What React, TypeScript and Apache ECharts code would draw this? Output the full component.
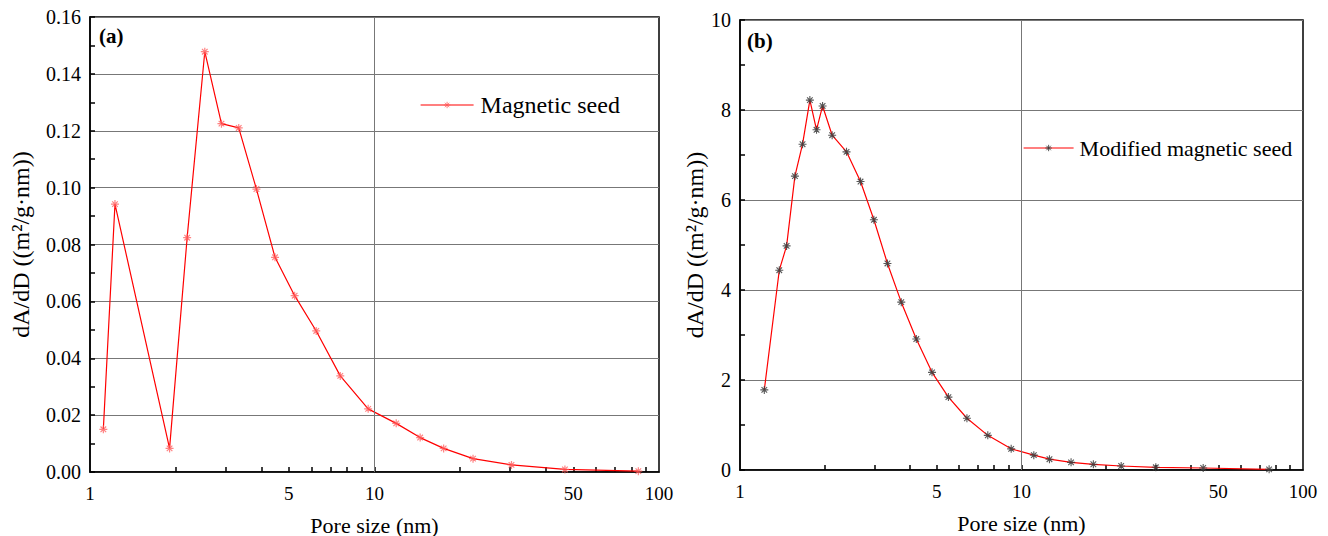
import React, { useEffect, useRef } from 'react';
import * as echarts from 'echarts';

// Panel (a): Magnetic seed
const poreA = [1.114, 1.224, 1.904, 2.195, 2.532, 2.898, 3.333, 3.846, 4.47, 5.24, 6.24, 7.58, 9.5, 11.92, 14.47, 17.5, 22.2, 30.3, 46.7, 84.6];
const dAdDA = [0.015, 0.0942, 0.0083, 0.0824, 0.1478, 0.1225, 0.121, 0.0995, 0.0755, 0.062, 0.0496, 0.0338, 0.0222, 0.0171, 0.0121, 0.0083, 0.0047, 0.0025, 0.0009, 0.0003];

// Panel (b): Modified magnetic seed
const poreB = [1.22, 1.379, 1.464, 1.567, 1.668, 1.771, 1.87, 1.965, 2.125, 2.39, 2.68, 2.99, 3.34, 3.74, 4.23, 4.81, 5.5, 6.4, 7.59, 9.19, 11.06, 12.57, 15.0, 18.0, 22.6, 30.0, 44.2, 75.8];
const dAdDB = [1.78, 4.44, 4.98, 6.53, 7.24, 8.22, 7.56, 8.09, 7.44, 7.07, 6.41, 5.56, 4.59, 3.73, 2.91, 2.17, 1.62, 1.15, 0.77, 0.47, 0.33, 0.24, 0.17, 0.127, 0.089, 0.06, 0.044, 0.015];

const xLabelValues = [1, 5, 10, 50, 100];
const xTickValues = [2, 3, 4, 5, 6, 7, 8, 9, 10, 20, 30, 40, 50, 60, 70, 80, 90];
const xGridValues = [10];

const seriesNames = ['Magnetic seed', 'Modified magnetic seed'];
const xName = 'Pore size (nm)';
const yName = 'dA/dD ((m²/g·nm))';
const panelLabels = ['(a)', '(b)'];

const FONT = '"Liberation Serif", "Times New Roman", serif';
const ASTERISK = 'path://M0,-5L0,5M-5,0L5,0M-3.5,-3.5L3.5,3.5M-3.5,3.5L3.5,-3.5';
const MARK_A = 'rgba(255,90,90,0.75)';
const MARK_B = 'rgba(60,60,60,0.85)';

const lg = (v: number) => Math.log10(v);

function xAxisCfg(gridIndex: number) {
  return {
    type: 'value',
    gridIndex,
    min: 0,
    max: 2,
    name: xName,
    nameLocation: 'middle',
    nameGap: 42,
    nameTextStyle: { fontFamily: FONT, fontSize: 22, color: '#000' },
    axisLine: { show: true, onZero: false, lineStyle: { color: '#000', width: 1.5 } },
    axisTick: {
      show: true,
      inside: true,
      length: 5,
      customValues: xTickValues.map(lg),
      lineStyle: { color: '#000', width: 1.5 },
    },
    axisLabel: {
      customValues: xLabelValues.map(lg),
      formatter: (v: number) => String(Math.round(Math.pow(10, v))),
      fontFamily: FONT,
      fontSize: 19,
      color: '#000',
      margin: 12,
    },
    splitLine: { show: false },
  };
}

function yAxisCfg(gridIndex: number, max: number, interval: number, decimals: number, nameGap: number) {
  return {
    type: 'value',
    gridIndex,
    min: 0,
    max,
    interval,
    name: yName,
    nameLocation: 'middle',
    nameGap,
    nameTextStyle: { fontFamily: FONT, fontSize: 24, color: '#000' },
    axisLine: { show: true, lineStyle: { color: '#000', width: 1.5 } },
    axisTick: { show: true, inside: true, length: 5, lineStyle: { color: '#000', width: 1.5 } },
    minorTick: { show: true, splitNumber: 2, length: 5, lineStyle: { color: '#000', width: 1.5 } },
    axisLabel: {
      formatter: (v: number) => v.toFixed(decimals),
      fontFamily: FONT,
      fontSize: 20,
      color: '#000',
      margin: 9,
    },
    splitLine: { show: true, lineStyle: { color: '#777', width: 1 } },
  };
}

export default function App() {
  const ref = useRef<HTMLDivElement>(null);

  useEffect(() => {
    if (!ref.current) return;
    const chart = echarts.init(ref.current, undefined, { renderer: 'svg' });

    const markLine = {
      silent: true,
      symbol: ['none', 'none'],
      label: { show: false },
      lineStyle: { color: '#777', width: 1, type: 'solid' },
      data: xGridValues.map((v) => ({ xAxis: lg(v) })),
    };

    chart.setOption({
      animation: false,
      backgroundColor: '#fff',
      textStyle: { fontFamily: FONT },
      grid: [
        { left: 90, top: 17, width: 569, height: 455, outerBoundsMode: 'none', containLabel: false, show: true, borderColor: '#000', borderWidth: 1.5, backgroundColor: 'transparent' },
        { left: 740, top: 20, width: 563, height: 450, outerBoundsMode: 'none', containLabel: false, show: true, borderColor: '#000', borderWidth: 1.5, backgroundColor: 'transparent' },
      ],
      xAxis: [xAxisCfg(0), xAxisCfg(1)],
      yAxis: [yAxisCfg(0, 0.16, 0.02, 2, 57), yAxisCfg(1, 10, 2, 0, 32)],
      legend: [
        {
          data: [seriesNames[0]],
          left: 420,
          top: 93,
          padding: 0,
          itemWidth: 53,
          itemHeight: 8,
          itemGap: 0,
          itemStyle: { color: 'transparent', borderColor: MARK_A, borderWidth: 1 },
          lineStyle: { color: '#ff0000', width: 1.2 },
          textStyle: { fontFamily: FONT, fontSize: 24, color: '#000', padding: [0, 0, 0, 2] },
        },
        {
          data: [seriesNames[1]],
          left: 1023,
          top: 137,
          padding: 0,
          itemWidth: 50,
          itemHeight: 8,
          itemGap: 0,
          itemStyle: { color: 'transparent', borderColor: MARK_B, borderWidth: 1 },
          lineStyle: { color: '#ff0000', width: 1.2 },
          textStyle: { fontFamily: FONT, fontSize: 22, color: '#000', padding: [0, 0, 0, 1] },
        },
      ],
      graphic: [
        { type: 'text', left: 99, top: 25, style: { text: panelLabels[0], font: `bold 21px ${FONT}`, fill: '#000' } },
        { type: 'text', left: 747, top: 30, style: { text: panelLabels[1], font: `bold 21px ${FONT}`, fill: '#000' } },
      ],
      series: [
        {
          name: seriesNames[0],
          type: 'line',
          xAxisIndex: 0,
          yAxisIndex: 0,
          data: poreA.map((x, i) => [lg(x), dAdDA[i]]),
          symbol: ASTERISK,
          symbolSize: 8,
          symbolKeepAspect: true,
          showAllSymbol: true,
          lineStyle: { color: '#ff0000', width: 1.2 },
          itemStyle: { color: 'transparent', borderColor: MARK_A, borderWidth: 1.2 },
          markLine,
          z: 3,
        },
        {
          name: seriesNames[1],
          type: 'line',
          xAxisIndex: 1,
          yAxisIndex: 1,
          data: poreB.map((x, i) => [lg(x), dAdDB[i]]),
          symbol: ASTERISK,
          symbolSize: 8,
          symbolKeepAspect: true,
          showAllSymbol: true,
          lineStyle: { color: '#ff0000', width: 1.2 },
          itemStyle: { color: 'transparent', borderColor: MARK_B, borderWidth: 1.1 },
          markLine,
          z: 3,
        },
      ],
    });

    return () => chart.dispose();
  }, []);

  return <div ref={ref} style={{ position: 'fixed', left: 0, top: 0, width: 1328, height: 536 }} />;
}
